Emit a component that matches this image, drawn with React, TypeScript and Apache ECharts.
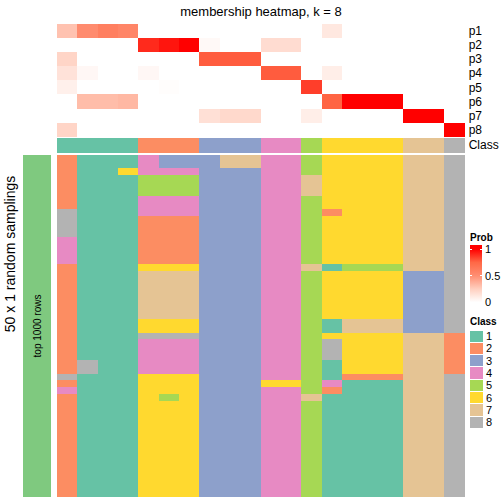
import React, { useEffect, useRef } from 'react';
import * as echarts from 'echarts';

const columnIds = ['s1','s2','s3','s4','s5','s6','s7','s8','s9','s10','s11','s12','s13','s14','s15','s16','s17','s18','s19','s20'];
const membershipNames = ['p1','p2','p3','p4','p5','p6','p7','p8'];

const p1 = [0.3, 0.52, 0.6, 0.56, 0, 0, 0, 0, 0, 0, 0, 0, 0, 0.12, 0, 0, 0, 0, 0, 0];
const p2 = [0, 0, 0, 0, 0.9, 0.95, 1, 0.03, 0, 0, 0.18, 0.18, 0, 0, 0, 0, 0, 0, 0, 0];
const p3 = [0.22, 0, 0, 0, 0, 0, 0, 0.78, 0.78, 0.78, 0, 0, 0, 0, 0, 0, 0, 0, 0, 0];
const p4 = [0.15, 0.04, 0, 0, 0.04, 0, 0, 0, 0, 0, 0.78, 0.78, 0, 0.09, 0, 0, 0, 0, 0, 0];
const p5 = [0.08, 0, 0, 0, 0, 0.01, 0, 0, 0, 0, 0, 0, 0.85, 0, 0, 0, 0, 0, 0, 0];
const p6 = [0, 0.32, 0.32, 0.34, 0, 0, 0, 0, 0, 0, 0, 0, 0, 0.76, 1, 1, 1, 0, 0, 0];
const p7 = [0, 0, 0, 0, 0, 0, 0, 0.16, 0.2, 0.2, 0, 0, 0.09, 0, 0, 0, 0, 1, 1, 0];
const p8 = [0.22, 0, 0, 0, 0, 0, 0, 0, 0, 0, 0, 0, 0, 0, 0, 0, 0, 0, 0, 1];
const memberships = [p1, p2, p3, p4, p5, p6, p7, p8];

const classRow = [1, 1, 1, 1, 2, 2, 2, 3, 3, 3, 4, 4, 5, 6, 6, 6, 6, 7, 7, 8];

// 50 random samplings (rows), each a string of 20 class labels (columns)
const samplingRows = [
  '21114333774456666778',
  '21114333774456666778',
  '21164443334456666778',
  '21115553334476666778',
  '21115553334476666778',
  '21115553334476666778',
  '21114443334456666778',
  '21114443334456666778',
  '81114443334452666778',
  '81112223334456666778',
  '81112223334456666778',
  '81112223334456666778',
  '41112223334456666778',
  '41112223334456666778',
  '41112223334456666778',
  '41112223334456666778',
  '21116663334471555778',
  '21117773334456666338',
  '21117773334456666338',
  '21117773334456666338',
  '21117773334456666338',
  '21117773334456666338',
  '21117773334456666338',
  '21117773334456666338',
  '21116663334451777338',
  '21116663334451777338',
  '21118883334456666772',
  '21114443334458666772',
  '21114443334458666772',
  '21114443334458666772',
  '28114443334451666772',
  '28114443334451666772',
  '81116663334451222778',
  '21116663336654111778',
  '41116663334452111778',
  '21116563334471111778',
  '21116663334451111778',
  '21116663334451111778',
  '21116663334451111778',
  '21116663334451111778',
  '21116663334451111778',
  '21116663334451111778',
  '21116663334451111778',
  '21116663334451111778',
  '21116663334451111778',
  '21116663334451111778',
  '21116663334451111778',
  '21116663334451111778',
  '21116663334451111778',
  '21116663334451111778',
];

const classLabels = ['1', '2', '3', '4', '5', '6', '7', '8'];
const classColors = ['#66C2A5', '#FC8D62', '#8DA0CB', '#E78AC3', '#A6D854', '#FFD92F', '#E5C494', '#B3B3B3'];
const probColors = ['#FFFFFF', '#FFCFBF', '#FF8E72', '#FF6846', '#FF0000'];
const probTicks = [0, 0.5, 1];
const rowAnnotation = ['top 1000 rows'];

const FONT = '"Liberation Sans", Arial, Helvetica, sans-serif';

export default function App() {
  const ref = useRef<HTMLDivElement>(null);
  useEffect(() => {
    if (!ref.current) return;
    const chart = echarts.init(ref.current, null, { renderer: 'svg' });

    const L = 57;
    const W = 407.7;
    const rowIdx = samplingRows.map((_, i) => String(i + 1));

    const memData: number[][] = [];
    memberships.forEach((row, r) => row.forEach((v, c) => memData.push([c, r, v])));
    const classData = classRow.map((v, c) => [c, 0, v]);
    const sampData: number[][] = [];
    samplingRows.forEach((s, r) => s.split('').forEach((ch, c) => sampData.push([c, r, Number(ch)])));
    const annoData = [[0, 0, 1]];

    const catX = (gi: number, data: string[]) => ({
      type: 'category', gridIndex: gi, data, show: false,
    });

    const lx = 470;
    const gTop = 249, gBot = 302;
    const probY = (v: number) => gBot - (gBot - gTop) * v;
    const classTop = 330, classStep = 12.3;
    const Z = 100;

    const graphic: any[] = [
      { type: 'text', z: Z, x: 261, y: 11, style: { text: 'membership heatmap, k = 8', font: `13px ${FONT}`, fill: '#000', align: 'center', verticalAlign: 'middle' } },
      { type: 'text', z: Z, x: 10, y: 254, rotation: Math.PI / 2, style: { text: '50 x 1 random samplings', font: `14px ${FONT}`, fill: '#000', align: 'center', verticalAlign: 'middle' } },
      { type: 'text', z: Z, x: 37, y: 326, rotation: Math.PI / 2, style: { text: rowAnnotation[0], font: `10px ${FONT}`, fill: '#000', align: 'center', verticalAlign: 'middle' } },
      { type: 'text', z: Z, x: lx, y: 237, style: { text: 'Prob', font: `bold 10px ${FONT}`, fill: '#000', align: 'left', verticalAlign: 'middle' } },
      {
        type: 'rect', z: Z, shape: { x: lx, y: 245, width: 11.5, height: 59 },
        style: {
          fill: new echarts.graphic.LinearGradient(0, 0, 0, 1, [
            { offset: 0, color: probColors[4] },
            { offset: 0.07, color: probColors[4] },
            { offset: 0.07 + 0.225, color: probColors[3] },
            { offset: 0.07 + 0.45, color: probColors[2] },
            { offset: 0.07 + 0.675, color: probColors[1] },
            { offset: 0.97, color: probColors[0] },
            { offset: 1, color: probColors[0] },
          ]),
        },
      },
      { type: 'text', z: Z, x: lx, y: 321, style: { text: 'Class', font: `bold 10px ${FONT}`, fill: '#000', align: 'left', verticalAlign: 'middle' } },
    ];
    probTicks.forEach((t) => {
      const y = probY(t);
      graphic.push({ type: 'text', z: Z, x: 485, y, style: { text: String(t), font: `11px ${FONT}`, fill: '#000', align: 'left', verticalAlign: 'middle' } });
      if (t > 0) {
        graphic.push({ type: 'line', z: Z + 1, shape: { x1: lx, y1: y, x2: lx + 2, y2: y }, style: { stroke: '#fff', lineWidth: 1 } });
        graphic.push({ type: 'line', z: Z + 1, shape: { x1: lx + 9.5, y1: y, x2: lx + 11.5, y2: y }, style: { stroke: '#fff', lineWidth: 1 } });
      }
    });
    classLabels.forEach((lab, i) => {
      const y = classTop + i * classStep;
      graphic.push({ type: 'rect', z: Z, shape: { x: lx, y: y + 0.5, width: 12.5, height: classStep - 1 }, style: { fill: classColors[i] } });
      graphic.push({ type: 'text', z: Z, x: 486, y: y + classStep / 2, style: { text: lab, font: `11px ${FONT}`, fill: '#000', align: 'left', verticalAlign: 'middle' } });
    });

    const noEmph = { disabled: true };
    const rightLabel = { margin: 4, color: '#000', fontSize: 12, fontFamily: FONT, interval: 0 };

    chart.setOption({
      animation: false,
      backgroundColor: '#fff',
      grid: [
        { left: L, top: 24, width: W, height: 113 },
        { left: L, top: 138, width: W, height: 14.5 },
        { left: L, top: 155, width: W, height: 342 },
        { left: 23, top: 155, width: 27.7, height: 342 },
      ],
      xAxis: [
        catX(0, columnIds),
        catX(1, columnIds),
        catX(2, columnIds),
        catX(3, ['a']),
      ],
      yAxis: [
        {
          type: 'category', gridIndex: 0, data: membershipNames, inverse: true, position: 'right',
          axisLine: { show: false }, axisTick: { show: false }, axisLabel: rightLabel,
        },
        {
          type: 'category', gridIndex: 1, data: ['Class'], inverse: true, position: 'right',
          axisLine: { show: false }, axisTick: { show: false }, axisLabel: rightLabel,
        },
        { type: 'category', gridIndex: 2, data: rowIdx, inverse: true, show: false },
        { type: 'category', gridIndex: 3, data: rowAnnotation, show: false },
      ],
      visualMap: [
        { type: 'continuous', min: 0, max: 1, seriesIndex: 0, show: false, inRange: { color: probColors } },
        { type: 'piecewise', seriesIndex: [1, 2], show: false, pieces: classColors.map((c, i) => ({ value: i + 1, color: c })) },
        { type: 'piecewise', seriesIndex: 3, show: false, pieces: [{ value: 1, color: '#7FC97F' }] },
      ],
      series: [
        { type: 'heatmap', xAxisIndex: 0, yAxisIndex: 0, data: memData, emphasis: noEmph },
        { type: 'heatmap', xAxisIndex: 1, yAxisIndex: 1, data: classData, emphasis: noEmph },
        { type: 'heatmap', xAxisIndex: 2, yAxisIndex: 2, data: sampData, emphasis: noEmph },
        { type: 'heatmap', xAxisIndex: 3, yAxisIndex: 3, data: annoData, emphasis: noEmph },
      ],
      graphic,
    });
    return () => chart.dispose();
  }, []);
  return (
    <>
      <style>{'#mh-chart svg path { shape-rendering: crispEdges; }'}</style>
      <div id="mh-chart" ref={ref} style={{ width: 504, height: 504, position: 'absolute', left: 0, top: 0 }} />
    </>
  );
}
